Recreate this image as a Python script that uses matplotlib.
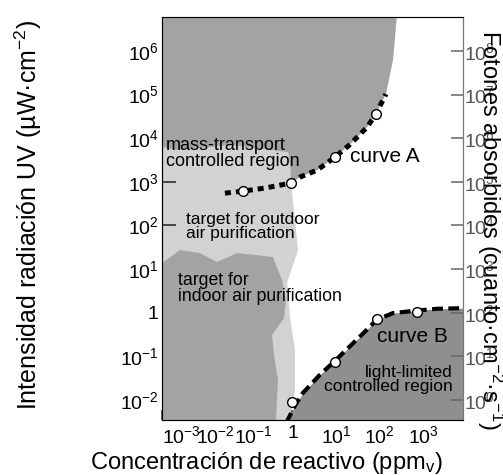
import numpy as np
import matplotlib
matplotlib.use("Agg")
import matplotlib.pyplot as plt
from matplotlib import transforms

plt.rcParams['font.family'] = ['Liberation Sans', 'DejaVu Sans']
plt.rcParams['mathtext.fontset'] = 'custom'
plt.rcParams['mathtext.rm'] = 'Liberation Sans'
plt.rcParams['mathtext.it'] = 'Liberation Sans:italic'
plt.rcParams['mathtext.bf'] = 'Liberation Sans:bold'

# axis ranges (ppm_v and uW/cm2)
x_min, x_max = 1e-3, 10 ** 3.92
y_min, y_max = 10 ** -2.46, 10 ** 6.78

# curve A: mass-transport limit
curve_a_x = [0.028, 0.073, 0.23, 0.93, 1.5, 3.7, 9.5, 21, 52, 83, 141]
curve_a_y = [550, 615, 720, 940, 1290, 1860, 3700, 7200, 18000, 36000, 103000]
curve_a_pts_x = [0.073, 0.93, 9.5, 83]
curve_a_pts_y = [615, 940, 3700, 36000]

# curve B: light-limited boundary
curve_b_x = [0.72, 1.15, 1.74, 4.3, 9.5, 35, 87, 204, 720, 2090, 8300]
curve_b_y = [0.0030, 0.0076, 0.0145, 0.038, 0.079, 0.28, 0.69, 0.98, 1.12, 1.23, 1.27]
curve_b_pts_x = [0.95, 9.5, 87, 720]
curve_b_pts_y = [0.009, 0.074, 0.71, 1.05]

# upper mass-transport region: top edge, then along curve A, then lower wavy edge
mass_top_x = [1e-3, 250, 205]
mass_top_y = [y_max, y_max, 6.2e5]
mass_low_x = [0.88, 0.79, 0.30, 0.037, 0.0075, 0.002, 1e-3]
mass_low_y = [2450, 4800, 5400, 7000, 5950, 5400, 6300]

# outdoor target band (right edge from top to bottom)
outdoor_right_x = [0.93, 1.08, 1.34, 0.75, 0.88, 1.14, 1.14, 0.88]
outdoor_right_y = [940, 224, 27.3, 4.8, 0.79, 0.139, 0.0168, y_min]

# indoor target region (top edge left to right, then right edge downwards)
indoor_x = [1e-3, 0.00259, 0.00748, 0.0184, 0.053, 0.153, 0.356,
            0.574, 0.71, 0.638, 0.338, 0.376, 0.464, 0.44, 0.418, 1e-3]
indoor_y = [13.7, 27.3, 23.3, 14.5, 23.3, 20.9, 18.8,
            5.6, 1.95, 0.75, 0.306, 0.107, 0.0284, 0.0099, y_min, y_min]

y_ticks = [1e6, 1e5, 1e4, 1e3, 1e2, 1e1, 1, 1e-1, 1e-2]
y_tick_labels = [r'$10^{6}$', r'$10^{5}$', r'$10^{4}$', r'$10^{3}$', r'$10^{2}$',
                 r'$10^{1}$', '1', r'$10^{-1}$', r'$10^{-2}$']
y2_ticks = [1e8, 1e7, 1e6, 1e5, 1e4, 1e3, 1e2, 1e1, 1e0]
y2_tick_labels = [r'$10^{8}$', r'$10^{7}$', r'$10^{6}$', r'$10^{5}$', r'$10^{4}$',
                  r'$10^{3}$', r'$10^{2}$', r'$10^{1}$', r'$10^{0}$']
x_ticks = [1e-3, 1e-2, 1e-1, 1, 1e1, 1e2, 1e3]
x_tick_labels = [r'$10^{-3}$', r'$10^{-2}$', r'$10^{-1}$', '1',
                 r'$10^{1}$', r'$10^{2}$', r'$10^{3}$']
x_label_shift = [14, 7, 3, 0, 0, 0, 0]   # points, crowded labels on the left

dark = '#a3a3a3'
darker = '#8f8f8f'
light = '#d2d2d2'

fig = plt.figure(figsize=(5.03, 4.75), dpi=100)
ax = fig.add_axes([162 / 503, 55 / 475, 301 / 503, 403 / 475])
ax.set_xscale('log')
ax.set_yscale('log')
ax.set_xlim(x_min, x_max)
ax.set_ylim(y_min, y_max)

# shaded regions
ax.fill(mass_low_x[::-1][:1] + mass_low_x[::-1] + outdoor_right_x + [1e-3],
        [mass_low_y[-1]] + mass_low_y[::-1] + outdoor_right_y + [y_min],
        color=light, lw=0, zorder=1)
ax.fill(mass_top_x + curve_a_x[3:][::-1] + mass_low_x,
        mass_top_y + curve_a_y[3:][::-1] + mass_low_y,
        color=dark, lw=0, zorder=2)
ax.fill(indoor_x, indoor_y, color=dark, lw=0, zorder=2)
ax.fill_between(curve_b_x, curve_b_y, 1e-4, color=darker, lw=0, zorder=2)

# boundary curves with data points
ax.plot(curve_a_x, curve_a_y, color='black', lw=3.6, ls=(0, (1.2, 1.0)), zorder=4)
ax.plot(curve_a_pts_x, curve_a_pts_y, 'o', ms=7, mfc='white', mec='black', mew=1, zorder=5)
ax.plot(curve_b_x, curve_b_y, color='black', lw=3.0, ls=(0, (2.6, 1.3)), zorder=4)
ax.plot(curve_b_pts_x, curve_b_pts_y, 'o', ms=7, mfc='white', mec='black', mew=1, zorder=5)

# region labels
def ax_text(px, py, s, **kw):
    ax.text((px - 162) / 301, (420 - py) / 403, s, transform=ax.transAxes, zorder=6, **kw)

ax_text(166, 137, 'mass-transport\ncontrolled region', fontsize=13, va='top', linespacing=0.95)
ax_text(186, 212, 'target for outdoor\nair purification', fontsize=12.5, va='top', linespacing=0.95)
ax_text(178, 272, 'target for\nindoor air purification', fontsize=12.7, va='top', linespacing=0.95)
ax_text(350, 156, 'curve A', fontsize=15, va='center')
ax_text(377, 336, 'curve B', fontsize=15, va='center')
ax_text(453, 365, 'light-limited\ncontrolled region', fontsize=12.5, va='top', ha='right',
        multialignment='right', linespacing=0.95)

# left axis ticks
ax.minorticks_off()
ax.set_yticks(y_ticks)
ax.set_yticklabels(y_tick_labels)
ax.tick_params(axis='y', direction='in', length=10, width=1.1, color='#222222',
               pad=2.5, labelsize=14)
ax.set_xticks(x_ticks)
ax.set_xticklabels([])
ax.tick_params(axis='x', direction='in', length=7, width=1.1, color='#333333')
offset = lambda dx: transforms.ScaledTranslation(dx / 72, 0, fig.dpi_scale_trans)
for v, s, dx in zip(x_ticks, x_tick_labels, x_label_shift):
    ax.text(v, -0.012, s, transform=ax.get_xaxis_transform() + offset(dx),
            ha='center', va='top', fontsize=14)

for side in ['left', 'bottom']:
    ax.spines[side].set_color('#333333')
for side in ['top', 'right']:
    ax.spines[side].set_color('#777777')

# right axis: absorbed photons
ax2 = ax.twinx()
ax2.set_yscale('log')
ax2.set_ylim(y_min * 100, y_max * 100)
ax2.minorticks_off()
ax2.set_yticks(y2_ticks)
ax2.set_yticklabels(y2_tick_labels)
ax2.tick_params(axis='y', direction='in', length=9, width=1.1, color='#666666',
                pad=0.5, labelsize=14, labelcolor='#555555')
ax2.spines['right'].set_color('#777777')

fig.text(28 / 503, 1 - 215 / 475, r'Intensidad radiación UV (µW·cm$^{-2}$)',
         rotation=90, ha='center', va='center', fontsize=18)
fig.text(266 / 503, 1 - 463 / 475, r'Concentración de reactivo (ppm$_{\mathrm{v}}$)',
         ha='center', va='center', fontsize=17)
fig.text(490 / 503, 1 - 30 / 475, r'Fotones absorbidos (cuanto·cm$^{-2}$·s$^{-1}$)',
         rotation=270, ha='center', va='top', fontsize=17)

fig.savefig('out.png', dpi=100)
